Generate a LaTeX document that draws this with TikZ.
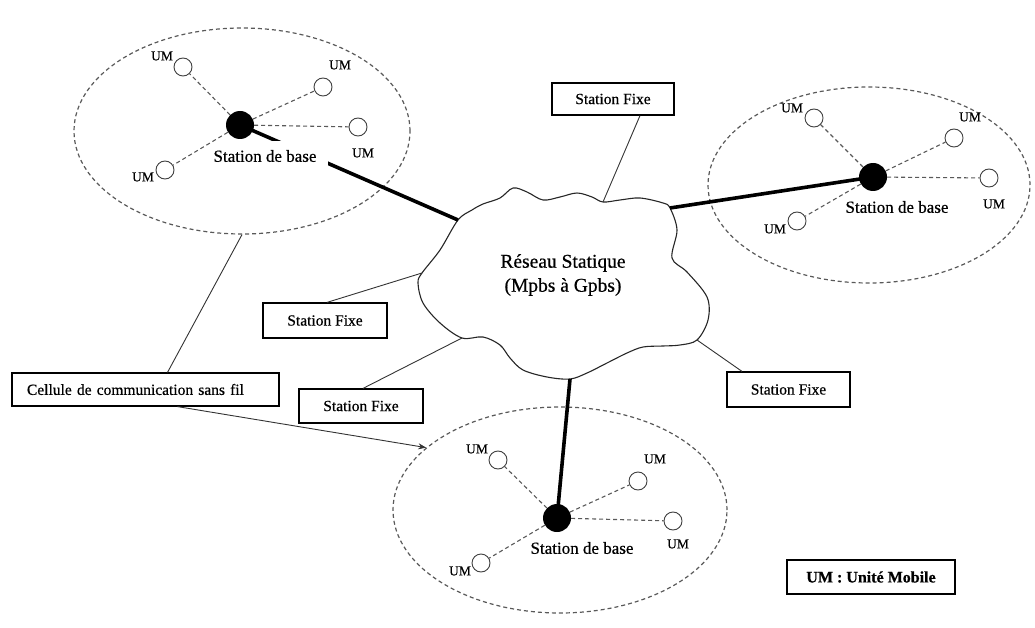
\documentclass[tikz,border=0pt]{standalone}
\usepackage{fontspec}
\setmainfont{Liberation Serif}[FakeBold=0.5]
\usetikzlibrary{shapes.geometric,arrows.meta}

\begin{document}
\begin{tikzpicture}[x=1pt,y=-1pt,
  cell/.style={ellipse, draw=black!65, line width=1.2pt,
    dash pattern=on 4pt off 3pt, inner sep=0pt},
  basestation/.style={circle, fill=black, minimum size=28pt, inner sep=0pt},
  mobile/.style={circle, draw=black!75, fill=white, line width=0.9pt,
    minimum size=18pt, inner sep=0pt},
  radio/.style={draw=black!65, line width=1.1pt, dash pattern=on 4pt off 3pt},
  backbone/.style={draw=black, line width=3.6pt},
  wire/.style={draw=black!80, line width=0.9pt},
  labelbox/.style={draw=black, line width=1.2pt, fill=white, inner sep=0pt,
    font=\fontsize{15.5}{18}\selectfont},
  umtext/.style={font=\fontsize{13.5}{16}\selectfont, inner sep=0pt},
  bstext/.style={font=\fontsize{17}{20}\selectfont, fill=white,
    inner xsep=12pt, minimum height=30pt},
  cloudline/.style={draw=black!85, line width=1.1pt, fill=white}
]
\useasboundingbox (0,0) rectangle (1035,628);

% wireless cells
\node[cell, minimum width=336pt, minimum height=206pt] (e1) at (242,131) {};
\node[cell, minimum width=322pt, minimum height=196pt] (e2) at (869,185) {};
\node[cell, minimum width=334pt, minimum height=206pt] (e3) at (560,510) {};

% static network cloud
\draw[cloudline] plot[smooth cycle, tension=0.55] coordinates {
  (458,220) (472,210) (483,204) (500,198) (513,188) (527,192) (543,200)
  (560,197) (577,193) (592,197) (603,202) (620,200) (640,198) (663,203)
  (670,208) (677,230) (672,258) (687,272) (707,297) (708,320) (697,340)
  (680,345) (663,346) (643,347) (627,353) (607,363) (587,373) (570,379)
  (547,377) (523,370) (510,358) (500,345) (483,337) (462,338) (440,323)
  (423,303) (418,283) (422,273) (440,250)};
\node[align=center, font=\fontsize{19.5}{24}\selectfont] (net) at (563,275)
  {Réseau Statique\\(Mpbs à Gpbs)};

% attachment points on the cloud outline
\coordinate (c1) at (458,220);
\coordinate (c2) at (670,208);
\coordinate (c3) at (570,379);
\coordinate (c4) at (603,202);
\coordinate (c5) at (422,273);
\coordinate (c6) at (462,338);
\coordinate (c7) at (697,340);

% base stations
\node[basestation] (b1) at (240,125) {};
\node[basestation] (b2) at (873,177) {};
\node[basestation] (b3) at (557,518) {};

% backbone links
\draw[backbone] (b1.center) -- (c1);
\draw[backbone] (b2.center) -- (c2);
\draw[backbone] (b3.center) -- (c3);

% fixed stations
\node[labelbox, minimum width=122pt, minimum height=32pt] (sf1) at (613,99) {Station Fixe};
\node[labelbox, minimum width=124pt, minimum height=35pt] (sf2) at (325,320.5) {Station Fixe};
\node[labelbox, minimum width=124pt, minimum height=34pt] (sf3) at (361,406) {Station Fixe};
\node[labelbox, minimum width=123pt, minimum height=35pt] (sf4) at (788.5,389.5) {Station Fixe};
\draw[wire] ([xshift=27pt]sf1.south) -- (c4);
\draw[wire] ([xshift=2pt]sf2.north) -- (c5);
\draw[wire] ([xshift=2pt]sf3.north) -- (c6);
\draw[wire] ([xshift=-46.5pt]sf4.north) -- (c7);

% cell caption and its pointers
\node[labelbox, text width=237pt, inner xsep=15pt, align=left,
  minimum height=33pt] (cellule) at (145.5,389.5)
  {Cellule de communication sans fil};
\draw[wire] ([xshift=22pt]cellule.north) -- (e1.south);
\draw[wire, -{Stealth[length=8pt,width=6pt]}] ([xshift=32pt]cellule.south) -- (e3.155);

% legend
\node[labelbox, line width=1.4pt, minimum width=168pt, minimum height=34pt,
  font=\fontsize{16}{19}\selectfont\bfseries] (legend) at (871,577) {UM : Unité Mobile};

% base station captions
\node[bstext] (t1) at (265,156) {Station de base};
\node[bstext] (t2) at (897,207) {Station de base};
\node[bstext] (t3) at (582,548) {Station de base};

% mobile units, cell 1
\node[mobile] (u11) at (183,67) {};
\node[mobile] (u12) at (323,87) {};
\node[mobile] (u13) at (358,127) {};
\node[mobile] (u14) at (165,170) {};
% mobile units, cell 2
\node[mobile] (u21) at (814,118) {};
\node[mobile] (u22) at (954,138) {};
\node[mobile] (u23) at (989,178) {};
\node[mobile] (u24) at (797,221) {};
% mobile units, cell 3
\node[mobile] (u31) at (498,460) {};
\node[mobile] (u32) at (638,481) {};
\node[mobile] (u33) at (673,521) {};
\node[mobile] (u34) at (481,563) {};

% radio links
\foreach \c in {1,2,3}{
  \foreach \u in {1,2,3,4}{
    \draw[radio] (b\c) -- (u\c\u);
  }
}

% mobile unit captions
\node[umtext] (l11) at (162,56) {UM};
\node[umtext] (l12) at (340,65) {UM};
\node[umtext] (l13) at (363,153) {UM};
\node[umtext] (l14) at (143,177) {UM};
\node[umtext] (l21) at (792,108) {UM};
\node[umtext] (l22) at (970,117) {UM};
\node[umtext] (l23) at (994,204) {UM};
\node[umtext] (l24) at (775,229) {UM};
\node[umtext] (l31) at (477,449) {UM};
\node[umtext] (l32) at (655,459) {UM};
\node[umtext] (l33) at (678,544) {UM};
\node[umtext] (l34) at (460,571) {UM};
\end{tikzpicture}
\end{document}
